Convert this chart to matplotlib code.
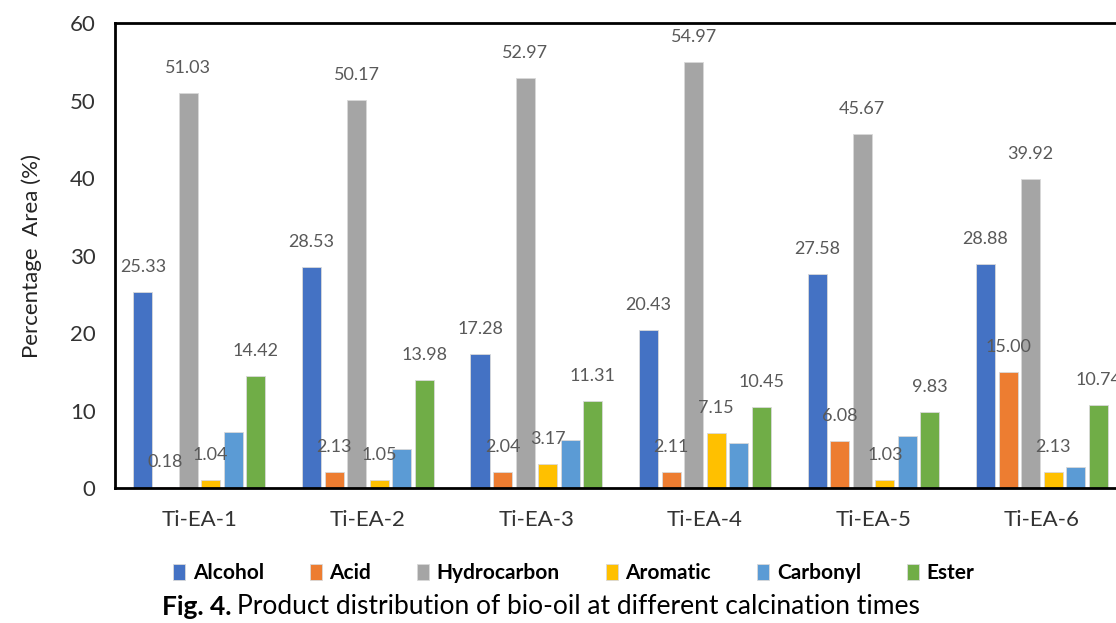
import numpy as np
import matplotlib.pyplot as plt

plt.rcParams['font.family'] = ['Lato', 'DejaVu Sans']

# product distribution of bio-oil (percentage area)
samples = ['Ti-EA-1', 'Ti-EA-2', 'Ti-EA-3', 'Ti-EA-4', 'Ti-EA-5', 'Ti-EA-6']
alcohol = [25.33, 28.53, 17.28, 20.43, 27.58, 28.88]
acid = [0.18, 2.13, 2.04, 2.11, 6.08, 15.00]
hydrocarbon = [51.03, 50.17, 52.97, 54.97, 45.67, 39.92]
aromatic = [1.04, 1.05, 3.17, 7.15, 1.03, 2.13]
carbonyl = [7.25, 5.0, 6.2, 5.85, 6.7, 2.75]
ester = [14.42, 13.98, 11.31, 10.45, 9.83, 10.74]

series = [('Alcohol', alcohol, '#4472C4', True),
          ('Acid', acid, '#ED7D31', True),
          ('Hydrocarbon', hydrocarbon, '#A5A5A5', True),
          ('Aromatic', aromatic, '#FFC000', True),
          ('Carbonyl', carbonyl, '#5B9BD5', False),
          ('Ester', ester, '#70AD47', True)]

fig = plt.figure(figsize=(11.16, 6.23), dpi=100)
ax = fig.add_axes([0.1032, 0.2165, 0.906, 0.746])

x = np.arange(len(samples))
pitch = 0.134
width = 0.113
for i, (name, vals, col, show) in enumerate(series):
    pos = x + (i - 2.5) * pitch
    bars = ax.bar(pos, vals, width, color=col, edgecolor='#d9d9d9', linewidth=0.6, label=name)
    if show:
        for b, v in zip(bars, vals):
            ax.annotate(f'{v:.2f}', (b.get_x() + b.get_width() / 2, v),
                        xytext=(0, 18), textcoords='offset points',
                        ha='center', va='center', fontsize=13, color='#595959',
                        annotation_clip=False)

ax.set_xlim(-0.5, 5.5)
ax.set_ylim(0, 60)
ax.set_yticks(range(0, 61, 10))
ax.set_xticks(x)
ax.set_xticklabels(samples, fontsize=16, color='#333333')
ax.tick_params(axis='y', labelsize=16, length=0, pad=14, labelcolor='#333333')
ax.tick_params(axis='x', length=0, pad=16)
for s in ['left', 'bottom', 'top', 'right']:
    ax.spines[s].set_linewidth(2)
    ax.spines[s].set_color('black')
ax.set_ylabel('Percentage  Area (%)', fontsize=16, labelpad=20, color='#222222')

fig.legend(loc='center', bbox_to_anchor=(0.514, 0.08), ncol=6, frameon=False,
           handlelength=0.6, handleheight=0.75, handletextpad=0.35, columnspacing=2.2,
           prop={'weight': 'bold', 'size': 15})

# caption: bold figure number followed by regular text
cap_y = 0.026
t1 = fig.text(0.145, cap_y, 'Fig. 4.', ha='left', va='center', fontsize=19, weight='bold')
fig.canvas.draw()
bb = t1.get_window_extent()
x2 = fig.transFigure.inverted().transform((bb.x1 + 6, 0))[0]
fig.text(x2, cap_y, 'Product distribution of bio-oil at different calcination times',
         ha='left', va='center', fontsize=19)

fig.savefig('out.png', dpi=100)
